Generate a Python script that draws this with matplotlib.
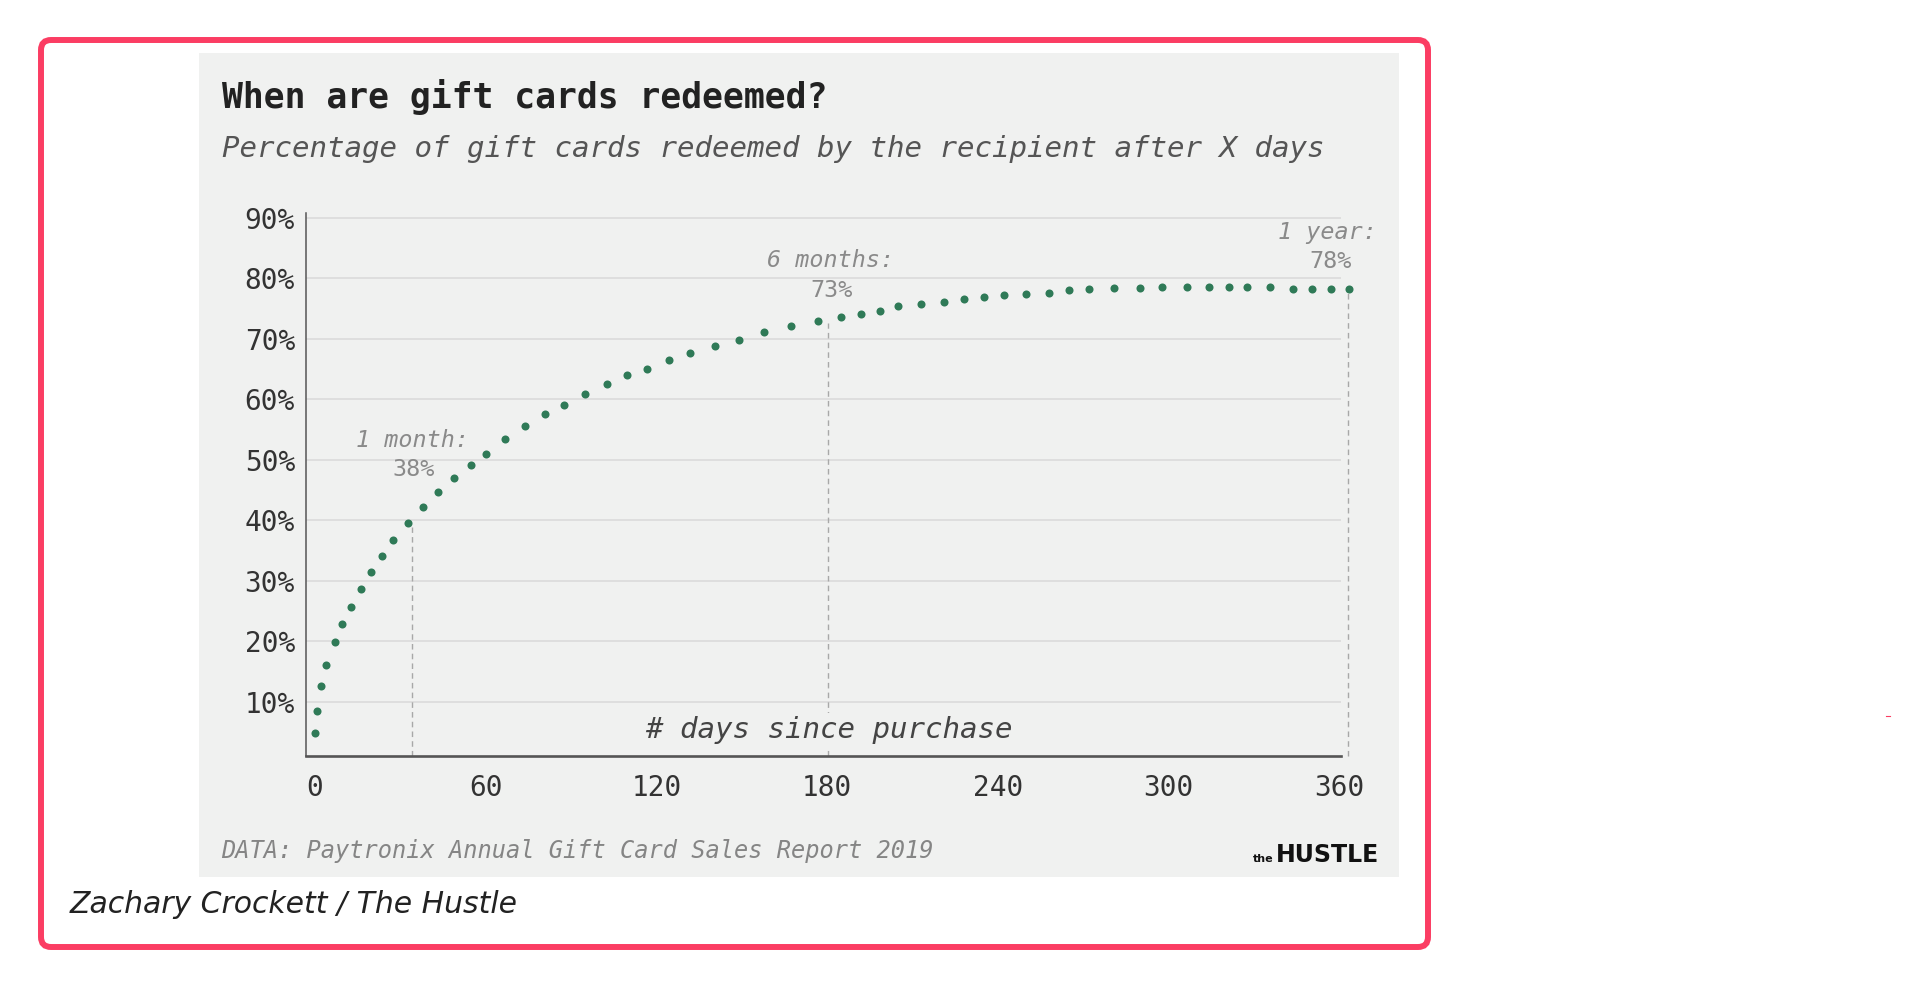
import matplotlib

matplotlib.use("Agg")
import matplotlib.pyplot as plt
from matplotlib import font_manager
from matplotlib.patches import FancyBboxPatch, Rectangle

# values
DAYS = [0.0, 0.6, 2.0, 3.9, 6.9, 9.4, 12.6, 16.1, 19.6, 23.5, 27.5, 32.8,
        37.9, 43.2, 48.9, 54.9, 60.1, 66.9, 73.7, 80.9, 87.7, 95.0, 102.8,
        109.6, 116.7, 124.3, 131.9, 140.7, 149.2, 157.9, 167.3, 176.7, 185.0,
        191.8, 198.5, 204.9, 213.0, 221.0, 228.0, 235.3, 242.3, 250.1, 257.9,
        265.2, 272.0, 280.8, 290.2, 297.8, 306.7, 314.4, 321.4, 327.8, 335.9,
        343.9, 350.5, 357.2, 363.4]
PCT = [4.9, 8.4, 12.6, 16.1, 19.8, 22.8, 25.7, 28.6, 31.4, 34.0, 36.7, 39.5,
       42.1, 44.6, 46.9, 49.1, 50.9, 53.4, 55.6, 57.6, 59.0, 60.9, 62.5,
       64.0, 65.0, 66.5, 67.6, 68.8, 69.8, 71.1, 72.1, 73.0, 73.6,
       74.1, 74.6, 75.4, 75.7, 76.1, 76.6, 76.9, 77.2, 77.4, 77.6,
       78.1, 78.2, 78.4, 78.4, 78.5, 78.6, 78.6, 78.5, 78.6, 78.5,
       78.2, 78.2, 78.2, 78.2]

MARK_DAYS = [34.1, 180.3, 363.2]
MARK_TOPS = [38.9, 72.6, 78.2]
MARK_NAMES = ["1 month:", "6 months:", "1 year:"]
MARK_VALUES = ["38%", "73%", "78%"]

X_TICKS = [0, 60, 120, 180, 240, 300, 360]
Y_TICKS = [10, 20, 30, 40, 50, 60, 70, 80, 90]
Y_LABELS = [f"{v}%" for v in Y_TICKS]

TITLE = "When are gift cards redeemed?"
SUBTITLE = "Percentage of gift cards redeemed by the recipient after X days"
XLABEL = "# days since purchase"
SOURCE = "DATA: Paytronix Annual Gift Card Sales Report 2019"
CREDIT = "Zachary Crockett / The Hustle"

W, H = 1929, 988
PANEL = "#f0f1f0"
RED = "#fb3d63"
GREEN = "#2f7a57"
MONO = "DejaVu Sans Mono"

names = {f.name for f in font_manager.fontManager.ttflist}
NARROW = "Liberation Sans Narrow" if "Liberation Sans Narrow" in names else None

fig = plt.figure(figsize=(W / 100, H / 100), dpi=100)
fig.patch.set_facecolor("white")

# background layer in pixel units (y down)
bg = fig.add_axes([0, 0, 1, 1])
bg.set_xlim(0, W)
bg.set_ylim(H, 0)
bg.axis("off")

bg.add_patch(FancyBboxPatch((41, 40), 1387, 907,
                            boxstyle="round,pad=0,rounding_size=10",
                            fill=False, edgecolor=RED, lw=4.3))
bg.add_patch(Rectangle((199, 53), 1200, 824, facecolor=PANEL, edgecolor="none"))
bg.plot([1886, 1890], [716, 716], color=RED, lw=0.8)

bg.text(222, 108, TITLE, fontsize=25, fontweight="bold", family=MONO,
        color="#222222", va="baseline")
bg.text(222, 157, SUBTITLE, fontsize=21, style="italic", family=MONO,
        color="#555555", va="baseline")
bg.text(221, 858, SOURCE, fontsize=17, style="italic", family=MONO,
        color="#858585", va="baseline")

if NARROW:
    logo = bg.text(1379, 862, "HUSTLE", fontsize=23, fontweight="bold",
                   family=NARROW, color="#111111", ha="right", va="baseline")
    bg.text(70, 913, CREDIT, fontsize=25, style="italic", family=NARROW,
            color="#222222", va="baseline")
else:
    logo = bg.text(1379, 862, "HUSTLE", fontsize=17, fontweight="bold",
                   color="#111111", ha="right", va="baseline")
    bg.text(70, 913, CREDIT, fontsize=21.5, style="italic",
            color="#222222", va="baseline")

# put the small "the" just left of the logo word
fig.canvas.draw()
lx0 = logo.get_window_extent().x0
bg.text(lx0 - 2, 862, "the", fontsize=8, fontweight="bold", color="#111111",
        ha="right", va="baseline")

# chart
x_left, x_right, y_top, y_bot = 306, 1341, 213, 755.7
ax = fig.add_axes([x_left / W, (H - y_bot) / H,
                   (x_right - x_left) / W, (y_bot - y_top) / H])
ax.set_facecolor("none")
ax.set_xlim(-3.17, 360.7)
ax.set_ylim(1.07, 90.78)

ax.set_yticks(Y_TICKS, Y_LABELS)
ax.set_xticks(X_TICKS, [str(t) for t in X_TICKS])
ax.tick_params(length=0, labelsize=20, labelcolor="#333333")
ax.tick_params(axis="y", pad=8)
ax.tick_params(axis="x", pad=13)
for lab in ax.get_xticklabels() + ax.get_yticklabels():
    lab.set_family(MONO)

ax.yaxis.grid(True, color="#d9d9d9", lw=1.1)
ax.set_axisbelow(True)
for s in ("top", "right"):
    ax.spines[s].set_visible(False)
ax.spines["left"].set_color("#555555")
ax.spines["left"].set_linewidth(1.1)
ax.spines["bottom"].set_color("#555555")
ax.spines["bottom"].set_linewidth(1.9)

for d, top in zip(MARK_DAYS, MARK_TOPS):
    ax.plot([d, d], [1.07, top], color="#a8a8a8", lw=1.0,
            linestyle=(0, (4, 3)), clip_on=False, zorder=2)

ax.plot(DAYS, PCT, "o", ms=5.8, color=GREEN, mec="none", clip_on=False, zorder=3)

# annotation offsets in pixels: (value dx, value dy, name dx, name dy)
offsets = [(1.8, 51, 0.5, 80), (3.3, 26, 2.3, 56), (-18, 21, -20.5, 50)]
for d, top, name, val, (vx, vy, nx, ny) in zip(MARK_DAYS, MARK_TOPS, MARK_NAMES,
                                                MARK_VALUES, offsets):
    ax.annotate(val, (d, top), xytext=(vx, vy), textcoords="offset pixels",
                ha="center", va="baseline", fontsize=16.8, family=MONO,
                color="#8a8a8a", annotation_clip=False)
    ax.annotate(name, (d, top), xytext=(nx, ny), textcoords="offset pixels",
                ha="center", va="baseline", fontsize=16.8, family=MONO,
                style="italic", color="#8a8a8a", annotation_clip=False)

ax.text(0.5048, 0.0326, XLABEL, transform=ax.transAxes, ha="center",
        va="baseline", fontsize=21, family=MONO, style="italic", color="#444444",
        zorder=5, bbox=dict(facecolor=PANEL, edgecolor="none", pad=2))

fig.savefig("out.png", dpi=100, facecolor="white")
